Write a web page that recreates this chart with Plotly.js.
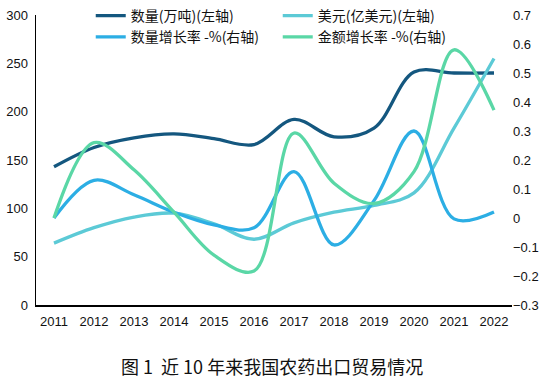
<!DOCTYPE html>
<html>
<head>
<meta charset="utf-8">
<script src="https://cdn.plot.ly/plotly-3.0.1.min.js"></script>
<style>html,body{margin:0;padding:0;background:#fff;}#chart{width:558px;height:383px;}</style>
</head>
<body>
<div id="chart"></div>
<script>
const years = ['2011','2012','2013','2014','2015','2016','2017','2018','2019','2020','2021','2022'];
const volume = [143, 163, 173, 177, 172, 166, 192, 174, 183, 241, 240, 240];        // 数量(万吨)
const valueUSD = [64, 80, 91, 95, 84, 68, 85, 96, 103, 116, 183, 255];             // 美元(亿美元)
const volumeGrowth = [0.00, 0.13, 0.08, 0.02, -0.024, -0.034, 0.16, -0.093, 0.06, 0.30, -0.003, 0.021]; // 数量增长率
const valueGrowth = [0.00, 0.26, 0.166, 0.02, -0.128, -0.183, 0.293, 0.12, 0.05, 0.16, 0.58, 0.372];      // 金额增长率
const names = ['数量(万吨)(左轴)', '美元(亿美元)(左轴)', '数量增长率 -%(右轴)', '金额增长率 -%(右轴)'];
const colors = ['#14577f', '#5ccad6', '#2caee4', '#5ad7a6'];

const idx = years.map((_, i) => i);
function tr(y, name, color, axis) {
  return {x: idx, y: y, name: name, type: 'scatter', mode: 'lines', yaxis: axis,
    line: {color: color, width: 3.3, shape: 'spline', smoothing: 1}, hoverinfo: 'skip'};
}
const data = [
  tr(volume, names[0], colors[0], 'y'),
  tr(valueUSD, names[1], colors[1], 'y'),
  tr(volumeGrowth, names[2], colors[2], 'y2'),
  tr(valueGrowth, names[3], colors[3], 'y2')
];
const font = {family: 'Liberation Sans, Arial, sans-serif', size: 13, color: '#111'};
const H = 305; // plot region height in px (top margin 0)
const dom = [0, 290 / H];
const layout = {
  width: 558, height: 383,
  margin: {l: 36, r: 46, t: 0, b: 78},
  paper_bgcolor: '#fff', plot_bgcolor: '#fff',
  font: font,
  showlegend: true,
  legend: {orientation: 'h', x: 0.115, y: 1.0, xanchor: 'left', yanchor: 'top',
    entrywidth: 142, traceorder: 'normal', bgcolor: 'rgba(255,255,255,0)',
    tracegroupgap: 0, itemwidth: 30,
    font: {family: 'Noto Sans CJK SC', size: 14, color: '#111'}},
  xaxis: {range: [-0.45, 11.45], tickmode: 'array', tickvals: idx, ticktext: years,
    showgrid: false, zeroline: false, showline: true, linecolor: '#000', linewidth: 1.5,
    ticks: '', ticklabelstandoff: 4, tickfont: {size: 13}},
  yaxis: {domain: dom, range: [0, 300], dtick: 50, showgrid: false, zeroline: false, showline: true,
    linecolor: '#000', linewidth: 1.5, ticks: '', ticklabelstandoff: 4, tickfont: {size: 13}},
  yaxis2: {domain: dom, range: [-0.3, 0.7], dtick: 0.1, overlaying: 'y', side: 'right', showgrid: false,
    zeroline: false, showline: false, ticks: '', tickfont: {size: 13}, tickformat: '.1~f'},
  annotations: [{text: '图 1  近 10 年来我国农药出口贸易情况', xref: 'paper', yref: 'paper',
    x: (272 - 36) / 476, y: (305 - 366) / H, xanchor: 'center', yanchor: 'middle', showarrow: false,
    font: {family: 'Noto Sans CJK SC', size: 18, color: '#111'}}]
};
Plotly.newPlot('chart', data, layout, {displayModeBar: false, staticPlot: true});
</script>
</body>
</html>
